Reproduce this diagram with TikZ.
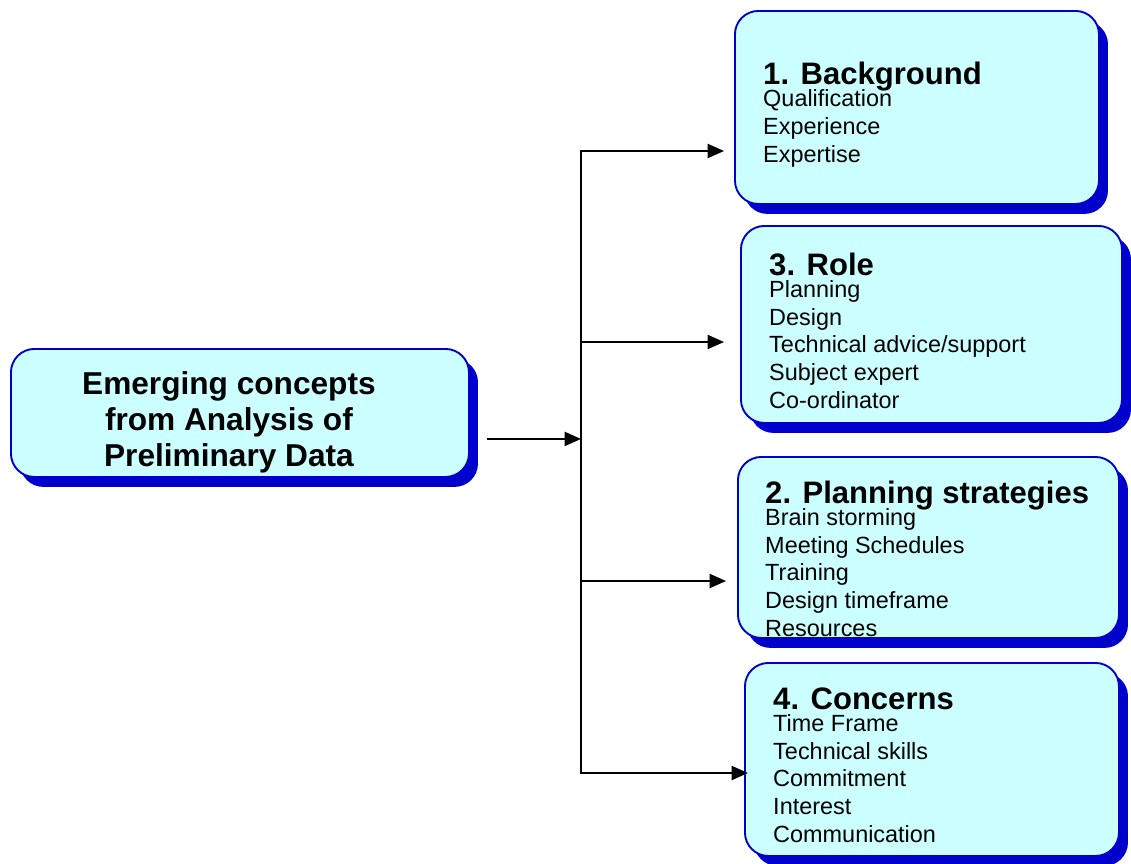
\documentclass[tikz,border=0pt]{standalone}
\usepackage{fontspec}
\setmainfont{Liberation Sans}
\usetikzlibrary{arrows.meta,positioning,calc,shadows}
\definecolor{BoxCyan}{HTML}{CCFFFF}
\definecolor{EdgeBlue}{HTML}{0000CC}
\newcommand{\boxhead}{\fontsize{26.5pt}{30pt}\selectfont\bfseries}

\begin{document}
\begin{tikzpicture}[
  x=0.03cm,y=-0.03cm,
  box/.style={draw=EdgeBlue,line width=1.6pt,fill=BoxCyan,rounded corners=20pt,anchor=north west,inner sep=0pt,
    drop shadow={shadow xshift=7.7pt,shadow yshift=-8.5pt,fill=EdgeBlue,opacity=1}},
  txt/.style={anchor=base west,align=left,inner sep=0pt,font=\fontsize{20pt}{23.5pt}\selectfont},
  srctxt/.style={align=center,inner sep=0pt,font=\fontsize{27pt}{30.7pt}\selectfont\bfseries},
  flow/.style={-{Triangle[length=14pt,width=12pt]},line width=1.7pt},
  wire/.style={line width=1.7pt,line cap=rect}
]
\useasboundingbox (0,0) rectangle (1131,863);
% boxes
\node[box,minimum width=13.74cm,minimum height=3.84cm] (src) at (10,348) {};
\node[box,minimum width=10.92cm,minimum height=5.79cm] (bg) at (734,10) {};
\node[box,minimum width=11.43cm,minimum height=5.91cm] (role) at (740,225) {};
\node[box,minimum width=11.43cm,minimum height=5.43cm] (plan) at (737,456) {};
\node[box,minimum width=11.22cm,minimum height=5.79cm] (conc) at (744,662) {};
% texts (anchored on the last line)
\node[srctxt] (src-txt) at ($(src.center)+(-11,9)$) {Emerging concepts\\from Analysis of\\Preliminary Data};
\node[txt] (bg-txt) at ($(bg.north west)+(29,152)$) {{\boxhead 1. Background}\\[-4.7pt]Qualification\\Experience\\Expertise};
\node[txt] (role-txt) at ($(role.north west)+(29,183)$) {{\boxhead 3. Role}\\[-4.7pt]Planning\\Design\\Technical advice/support\\Subject expert\\Co-ordinator};
\node[txt] (plan-txt) at ($(plan.north west)+(28,180)$) {{\boxhead 2. Planning strategies}\\[-4.7pt]Brain storming\\Meeting Schedules\\Training\\Design timeframe\\Resources};
\node[txt] (conc-txt) at ($(conc.north west)+(29,180)$) {{\boxhead 4. Concerns}\\[-4.7pt]Time Frame\\Technical skills\\Commitment\\Interest\\Communication};
% connectors
\coordinate (out) at ($(src.east)+(17,26)$);
\coordinate (hub) at (581,438);
\draw[flow] (out) -- (out -| hub);
\foreach \b/\dx/\dy in {bg/-10/141,role/-16/117,plan/-11/125,conc/4/111}{
  \coordinate (\b-in) at ($(\b.north west)+(\dx,\dy)$);
  \draw[flow] (hub |- \b-in) -- (\b-in);
}
\draw[wire] (hub |- bg-in) -- (hub |- conc-in);
\end{tikzpicture}
\end{document}
